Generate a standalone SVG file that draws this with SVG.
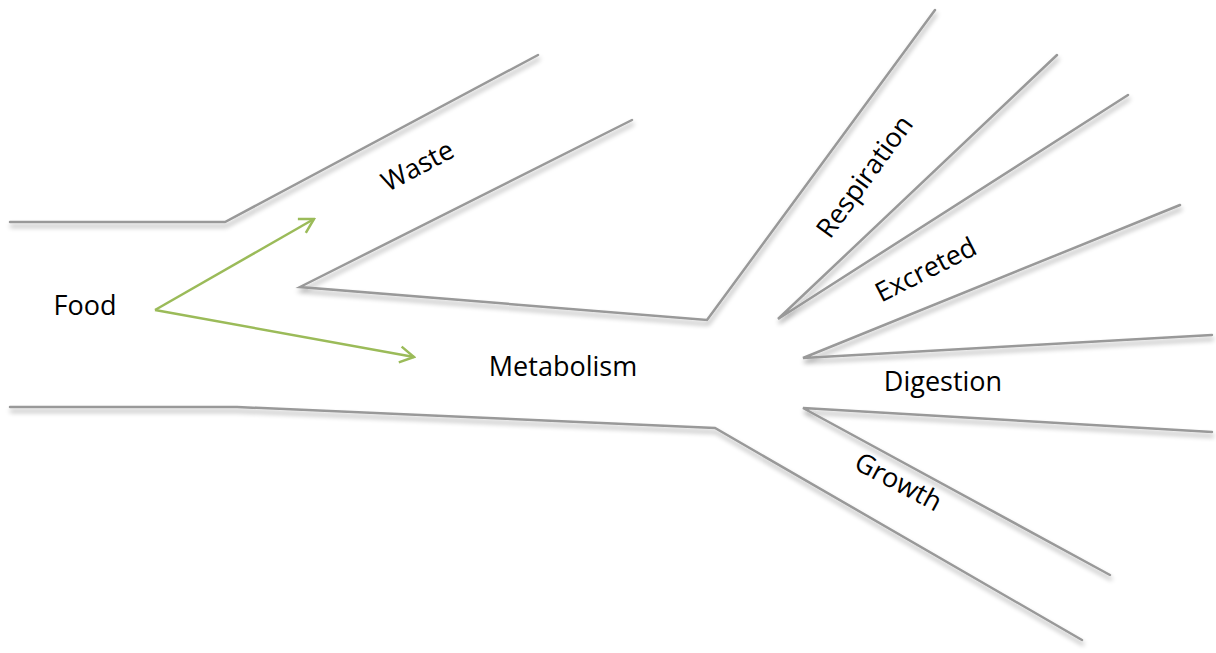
<svg xmlns="http://www.w3.org/2000/svg" width="1216" height="653" viewBox="0 0 1216 653">
<defs>
<filter id="sh" x="-10%" y="-10%" width="120%" height="130%">
<feGaussianBlur in="SourceAlpha" stdDeviation="2.5"/>
<feOffset dx="1" dy="4" result="b"/>
<feComponentTransfer><feFuncA type="linear" slope="0.35"/></feComponentTransfer>
<feMerge><feMergeNode/><feMergeNode in="SourceGraphic"/></feMerge>
</filter>
<marker id="ah" viewBox="0 0 20 20" refX="18" refY="10" markerWidth="20" markerHeight="20" orient="auto" markerUnits="userSpaceOnUse">
<path d="M4,2 L18,10 L4,18" fill="none" stroke="#9bbb59" stroke-width="2.5"/>
</marker>
</defs>
<style>
.w{fill:none;stroke:#999;stroke-width:2.5;stroke-linejoin:miter;stroke-linecap:round}
.a{fill:none;stroke:#9bbb59;stroke-width:2.5}
.t{font-family:"Open Sans","Noto Sans","Liberation Sans",sans-serif;font-size:27px;fill:#000;text-anchor:middle}
</style>
<rect width="1216" height="653" fill="#fff"/>
<g id="connectors">
<g filter="url(#sh)">
<polyline class="w" points="10,222 225,222 538,55"/>
<polyline class="w" points="632,120 300,287 707,320 935,10"/>
<polyline class="w" points="10,407 237,407 715,428 1082,640"/>
<polyline class="w" points="1057,55 778,319 1128,95"/>
<polyline class="w" points="1180,205 803,358 1212,335"/>
<polyline class="w" points="1212,432 803,408 1110,575"/>
</g>
<line class="a" x1="155" y1="310" x2="314" y2="219" marker-end="url(#ah)"/>
<line class="a" x1="155" y1="310" x2="414" y2="357" marker-end="url(#ah)"/>
</g>
<g id="food"><text class="t" x="85" y="315">Food</text></g>
<g id="waste"><text class="t" transform="translate(422,174) rotate(-28)">Waste</text></g>
<g id="metabolism"><text class="t" x="563" y="376">Metabolism</text></g>
<g id="respiration"><text class="t" transform="translate(872,182) rotate(-54)">Respiration</text></g>
<g id="excreted"><text class="t" transform="translate(930,278) rotate(-27)">Excreted</text></g>
<g id="digestion"><text class="t" x="943" y="391">Digestion</text></g>
<g id="growth"><text class="t" transform="translate(894,490) rotate(28)">Growth</text></g>
</svg>
